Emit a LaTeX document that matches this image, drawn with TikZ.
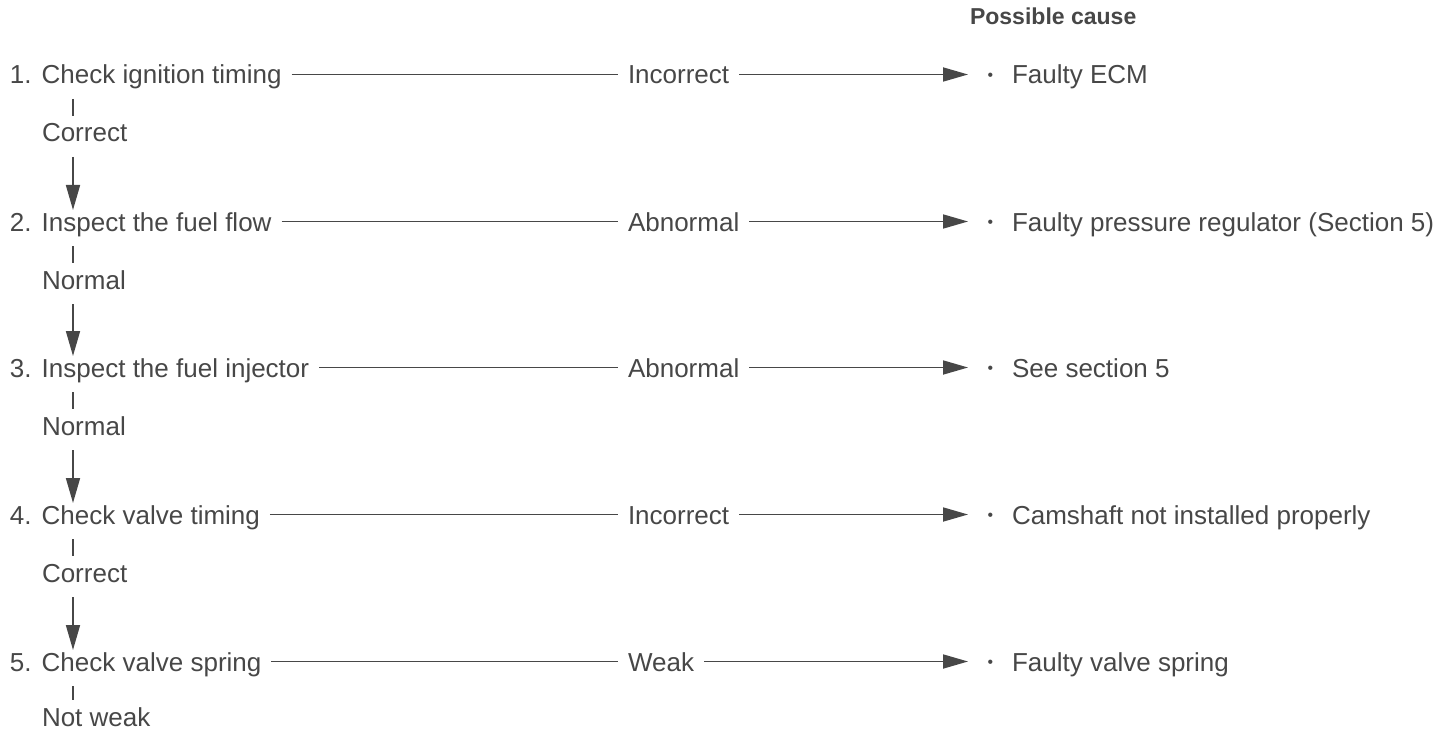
\documentclass[tikz,border=0pt]{standalone}
\usepackage{fontspec}
\setmainfont{Liberation Sans}
\usepackage{tikz}
\usetikzlibrary{arrows.meta}
\definecolor{ink}{HTML}{474747}

\begin{document}
\begin{tikzpicture}[
    txt/.style={inner sep=0pt, outer xsep=0.2cm, outer ysep=0.2cm,
      text height=0.48cm, text depth=0.1cm, anchor=base west,
      text=ink, font=\fontsize{14.8}{18}\selectfont},
    stepbox/.style={txt},
    answer/.style={txt},
    cause/.style={txt, outer xsep=0.39cm,
      execute at begin node={\raisebox{0.07cm}{\fontsize{9}{9}\selectfont •}\hspace{0.38cm}}},
    head/.style={txt, font=\bfseries\fontsize{13.1}{15}\selectfont},
    line/.style={draw=ink, line width=1pt},
    tick/.style={line, shorten >=-0.16cm},
    arrow/.style={line, -{Triangle[length=0.5cm,width=0.28cm]}},
    down/.style={arrow, shorten >=-0.26cm}
  ]
  \useasboundingbox (0,0) rectangle (28.82,-14.64);
  \coordinate (spine) at (1.46,0);

  \node[head] (hdr) at (19.2,-0.5) {Possible cause};

  % checks, left column
  \node[stepbox] (ign) at (0,-1.68) {1.\hspace{0.2cm}Check ignition timing};
  \node[stepbox] (flow) at (0,-4.62) {2.\hspace{0.2cm}Inspect the fuel flow};
  \node[stepbox] (inj) at (0,-7.54) {3.\hspace{0.2cm}Inspect the fuel injector};
  \node[stepbox] (valve) at (0,-10.48) {4.\hspace{0.2cm}Check valve timing};
  \node[stepbox] (spring) at (0,-13.42) {5.\hspace{0.2cm}Check valve spring};

  % good results
  \node[answer] (ignok) at (0.64,-2.84) {Correct};
  \node[answer] (flowok) at (0.64,-5.78) {Normal};
  \node[answer] (injok) at (0.64,-8.70) {Normal};
  \node[answer] (valveok) at (0.64,-11.64) {Correct};
  \node[answer] (springok) at (0.64,-14.52) {Not weak};

  % bad results
  \node[answer] (ignbad) at (12.36,-1.68) {Incorrect};
  \node[answer] (flowbad) at (12.36,-4.62) {Abnormal};
  \node[answer] (injbad) at (12.36,-7.54) {Abnormal};
  \node[answer] (valvebad) at (12.36,-10.48) {Incorrect};
  \node[answer] (springbad) at (12.36,-13.42) {Weak};

  % possible causes
  \node[cause] (igncause) at (19.36,-1.68) {Faulty ECM};
  \node[cause] (flowcause) at (19.36,-4.62) {Faulty pressure regulator (Section 5)};
  \node[cause] (injcause) at (19.36,-7.54) {See section 5};
  \node[cause] (valvecause) at (19.36,-10.48) {Camshaft not installed properly};
  \node[cause] (springcause) at (19.36,-13.42) {Faulty valve spring};

  \draw[line] (ign) -- (ignbad);
  \draw[line] (flow) -- (flowbad);
  \draw[line] (inj) -- (injbad);
  \draw[line] (valve) -- (valvebad);
  \draw[line] (spring) -- (springbad);

  \draw[arrow] (ignbad) -- (igncause);
  \draw[arrow] (flowbad) -- (flowcause);
  \draw[arrow] (injbad) -- (injcause);
  \draw[arrow] (valvebad) -- (valvecause);
  \draw[arrow] (springbad) -- (springcause);

  \draw[tick] (ign.south -| spine) -- (ignok.north -| spine);
  \draw[down] (ignok.south -| spine) -- (flow.north -| spine);
  \draw[tick] (flow.south -| spine) -- (flowok.north -| spine);
  \draw[down] (flowok.south -| spine) -- (inj.north -| spine);
  \draw[tick] (inj.south -| spine) -- (injok.north -| spine);
  \draw[down] (injok.south -| spine) -- (valve.north -| spine);
  \draw[tick] (valve.south -| spine) -- (valveok.north -| spine);
  \draw[down] (valveok.south -| spine) -- (spring.north -| spine);
  \draw[tick] (spring.south -| spine) -- (springok.north -| spine);
\end{tikzpicture}
\end{document}
